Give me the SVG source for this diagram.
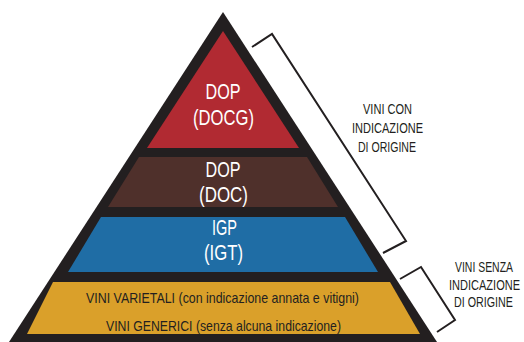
<svg xmlns="http://www.w3.org/2000/svg" width="524" height="342" viewBox="0 0 524 342">
<style>
.t{font-family:"Liberation Sans Narrow","Liberation Sans",Arial,sans-serif;text-anchor:middle}
.w{fill:#ffffff;font-size:22.5px}
.d{fill:#231f20;font-size:14.5px}
.br{fill:none;stroke:#231f20;stroke-width:2;stroke-linejoin:miter}
</style>
<rect width="524" height="342" fill="#ffffff"/>
<g id="pyramid-frame">
<polygon points="223,12 9,342 437,342" fill="#231f20"/>
</g>
<g id="tier-docg">
<polygon points="223,31 147,148 299,148" fill="#b12a32"/>
<text class="t w" x="223" y="99" textLength="35" lengthAdjust="spacingAndGlyphs">DOP</text>
<text class="t w" x="223.5" y="125" textLength="61" lengthAdjust="spacingAndGlyphs">(DOCG)</text>
</g>
<g id="tier-doc">
<polygon points="139,157 307,157 338,207 108,207" fill="#4f302b"/>
<text class="t w" x="223" y="177" textLength="35" lengthAdjust="spacingAndGlyphs">DOP</text>
<text class="t w" x="223.5" y="202" textLength="49" lengthAdjust="spacingAndGlyphs">(DOC)</text>
</g>
<g id="tier-igp">
<polygon points="101,217 345,217 378,272 68,272" fill="#1f6da5"/>
<text class="t w" x="224.5" y="235" textLength="25" lengthAdjust="spacingAndGlyphs">IGP</text>
<text class="t w" x="223.5" y="260" textLength="39" lengthAdjust="spacingAndGlyphs">(IGT)</text>
</g>
<g id="tier-generic">
<polygon points="53,282 390,282 420,334 27,334" fill="#daa02a"/>
<text class="t d" x="222.5" y="303" textLength="273" lengthAdjust="spacingAndGlyphs">VINI VARIETALI (con indicazione annata e vitigni)</text>
<text class="t d" x="223.5" y="330.5" textLength="235" lengthAdjust="spacingAndGlyphs">VINI GENERICI (senza alcuna indicazione)</text>
</g>
<g id="connectors">
<polyline class="br" points="252,47 272,34 406,241 383,253"/>
<polyline class="br" points="400,279 421,267 455,320 437,332"/>
</g>
<g id="label-con">
<text class="t d" x="387.5" y="114" textLength="49" lengthAdjust="spacingAndGlyphs">VINI CON</text>
<text class="t d" x="387.5" y="133" textLength="71" lengthAdjust="spacingAndGlyphs">INDICAZIONE</text>
<text class="t d" x="387" y="151.7" textLength="58" lengthAdjust="spacingAndGlyphs">DI ORIGINE</text>
</g>
<g id="label-senza">
<text class="t d" x="484" y="271.7" textLength="58" lengthAdjust="spacingAndGlyphs">VINI SENZA</text>
<text class="t d" x="484.5" y="290" textLength="71" lengthAdjust="spacingAndGlyphs">INDICAZIONE</text>
<text class="t d" x="483.5" y="307" textLength="59" lengthAdjust="spacingAndGlyphs">DI ORIGINE</text>
</g>
</svg>
